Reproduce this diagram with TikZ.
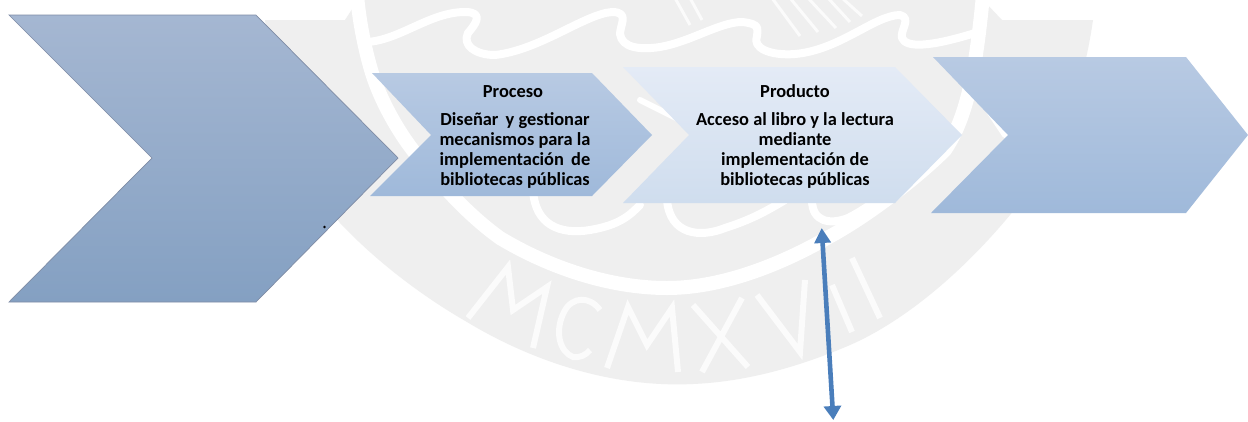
\documentclass[tikz,border=0pt]{standalone}
\usepackage{fontspec}
\setmainfont{Carlito}
\usetikzlibrary{arrows.meta}
\definecolor{seal}{HTML}{EFEFEF}
\definecolor{stripe}{HTML}{FBFBFB}
\definecolor{linkblue}{HTML}{4A7EBB}
\definecolor{bigtop}{HTML}{A5B7D2}
\definecolor{bigbot}{HTML}{84A0C2}
\definecolor{bigedge}{HTML}{7F8CA5}
\definecolor{midtop}{HTML}{B8CAE3}
\definecolor{midbot}{HTML}{9FB9DA}
\definecolor{paletop}{HTML}{E4EBF6}
\definecolor{palebot}{HTML}{CFDDEE}
\tikzset{
  sealband/.style={draw=white,line width=14pt,line join=round,line cap=round},
  sealline/.style={draw=white,line width=8pt,line join=round,line cap=round},
  sealletter/.style={draw=stripe,line width=6pt,line join=miter},
  bigchev/.style={top color=bigtop,bottom color=bigbot,draw=bigedge,line width=.7pt},
  midchev/.style={top color=midtop,bottom color=midbot},
  palechev/.style={top color=paletop,bottom color=palebot},
  label/.style={font=\bfseries\fontsize{18.4}{20}\selectfont,align=center,text=black,inner sep=0pt},
  link/.style={draw=linkblue,line width=4.6pt,{Triangle[length=15pt,width=16pt]}-{Triangle[length=14pt,width=17pt]}}
}
\begin{document}
\begin{tikzpicture}[x=1pt,y=-1pt]
\path[use as bounding box,fill=white] (0,0) rectangle (1248,421);
\begin{scope}
\clip (0,0) rectangle (1248,421);
% watermark seal
\fill[seal] (358,0) -- (983,0) -- (1002,20) -- (1093,20)
  .. controls (1080,110) and (1050,165) .. (1010,215)
  .. controls (960,275) and (900,325) .. (843,348)
  .. controls (790,370) and (740,382) .. (693,384)
  .. controls (610,388) and (530,360) .. (467,322)
  .. controls (420,295) and (375,260) .. (340,223)
  .. controls (300,170) and (275,90) .. (265,20)
  -- (345,20) -- cycle;
\draw[sealband] (357,-5) .. controls (360,30) and (368,60) .. (372,73)
  .. controls (382,105) and (405,145) .. (430,170)
  .. controls (450,195) and (475,220) .. (500,238)
  .. controls (550,268) and (610,288) .. (667,288)
  .. controls (725,288) and (785,262) .. (827,238)
  .. controls (870,215) and (920,175) .. (945,150)
  .. controls (965,120) and (975,80) .. (983,-5);
\draw[sealline] (367,42) .. controls (400,40) and (430,12) .. (465,12)
  .. controls (485,12) and (475,25) .. (468,33)
  .. controls (462,45) and (475,55) .. (495,55)
  .. controls (540,50) and (585,14) .. (612,12)
  .. controls (630,12) and (620,25) .. (620,34)
  .. controls (622,48) and (640,50) .. (660,47)
  .. controls (690,42) and (720,22) .. (742,22)
  .. controls (762,24) and (757,30) .. (757,36)
  .. controls (752,48) and (770,56) .. (795,54)
  .. controls (840,50) and (875,15) .. (900,15)
  .. controls (912,18) and (900,30) .. (902,38)
  .. controls (906,48) and (930,47) .. (975,33);
\draw[draw=stripe,line width=3pt] (675,-2) -- (690,25) (690,-2) -- (702,20) (772,-2) -- (800,36) (790,-2) -- (818,32) (808,-2) -- (836,28) (828,-2) -- (850,22) (842,-2) -- (862,16);
\draw[sealline] (533,190) .. controls (535,225) and (560,235) .. (590,230) .. controls (620,225) and (630,215) .. (640,205);
\draw[sealline] (667,200) .. controls (670,235) and (700,238) .. (725,228) .. controls (750,220) and (765,212) .. (785,200);
\draw[sealline] (812,200) .. controls (812,222) and (830,225) .. (848,218) .. controls (860,212) and (870,205) .. (880,198);
\draw[sealline,line width=6pt] (985,105) -- (1005,135);
\draw[sealline,line width=6pt] (640,100) -- (690,125);
\draw[sealletter] (468,318) -- (508,267) -- (513,310) -- (547,287) -- (533,348);
\draw[sealletter] (600,310) .. controls (590,296) and (572,296) .. (564,312) .. controls (554,332) and (560,352) .. (573,357) .. controls (580,358) and (586,355) .. (590,350);
\draw[sealletter] (607,368) -- (628,307) -- (647,345) -- (672,308) -- (678,372);
\draw[sealletter] (693,305) -- (748,367) (742,298) -- (702,372);
\draw[sealletter] (757,295) -- (800,352) -- (805,280);
\draw[sealletter] (832,285) -- (852,332) (852,258) -- (880,318);
\end{scope}
% chevrons
\path[bigchev] (9,15) -- (256,15) -- (398,158) -- (256,302) -- (9,302) -- (152,158) -- cycle;
\fill[black] (324.5,227) circle (1.4);
\path[midchev] (372,73) -- (592,73) -- (652,135) -- (592,196) -- (370,196) -- (431,135) -- cycle;
\path[palechev] (623,67) -- (895,67) -- (962,135) -- (895,203) -- (623,203) -- (689,135) -- cycle;
\path[midchev] (933,57) -- (1186,57) -- (1248,135) -- (1186,213) -- (931,213) -- (1008,135) -- cycle;
% texts
\node[label,anchor=base] (proctitle) at (513,97) {Proceso};
\node[label,anchor=north] (procbody) at (515,112) {Diseñar\, y gestionar\\mecanismos para la\\implementación\, de\\bibliotecas públicas};
\node[label,anchor=base] (prodtitle) at (795,97) {Producto};
\node[label,anchor=north] (prodbody) at (795,112) {Acceso al libro y la lectura\\mediante\\implementación de\\bibliotecas públicas};
% arrow
\coordinate (up) at (821.7,228);
\coordinate (down) at (833.3,420);
\draw[link] (up) -- (down);
\end{tikzpicture}
\end{document}
